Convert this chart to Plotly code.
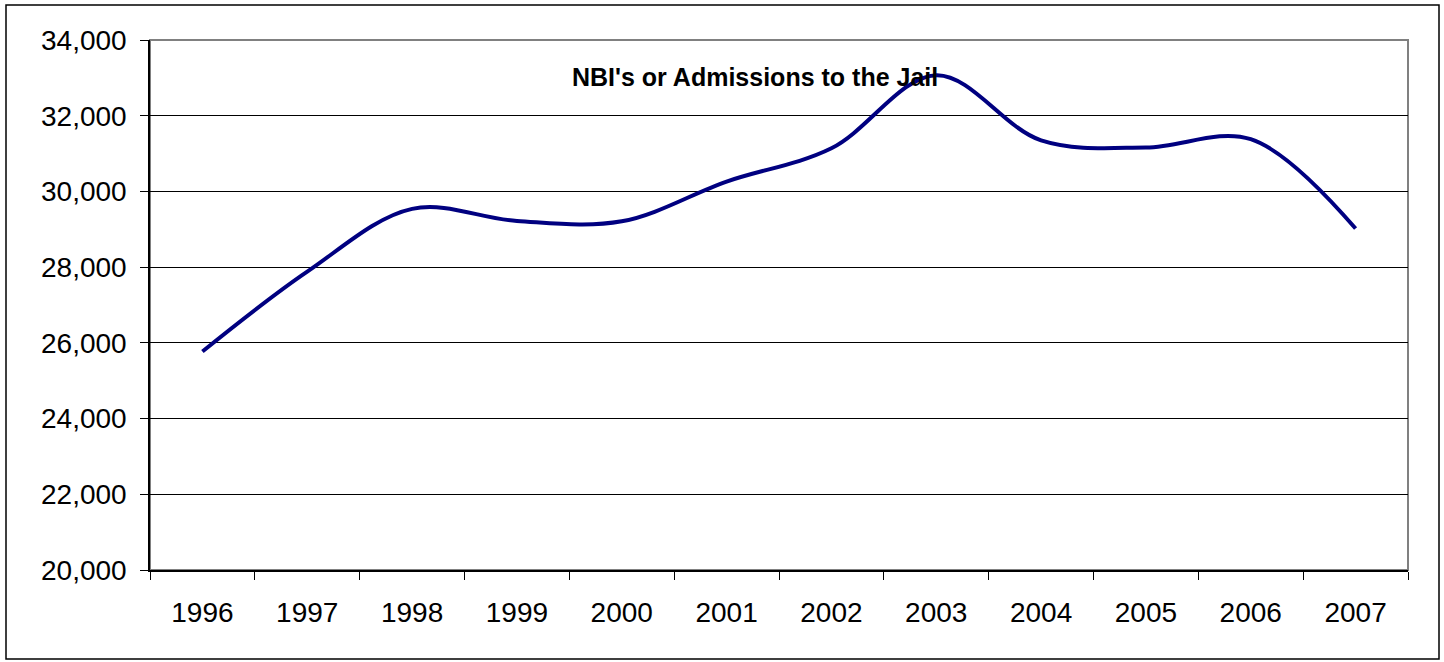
import plotly.graph_objects as go

years = ["1996", "1997", "1998", "1999", "2000", "2001",
         "2002", "2003", "2004", "2005", "2006", "2007"]
admissions = [25770, 27880, 29540, 29220, 29210, 30260,
              31140, 33070, 31350, 31160, 31380, 29020]

W, H = 1444, 662
L, R, T, B = 150, 36, 40, 92
pw, ph = W - L - R, H - T - B

def px(x):
    return (x - L) / pw

def py(y):
    return (H - B - y) / ph

fig = go.Figure()
fig.add_trace(go.Scatter(x=years, y=admissions, mode="lines",
                         line=dict(color="#000080", width=4, shape="spline", smoothing=1),
                         showlegend=False, hoverinfo="x+y"))

fig.update_layout(
    width=W, height=H,
    margin=dict(l=L, r=R, t=T, b=B),
    paper_bgcolor="white", plot_bgcolor="white",
    font=dict(family="Liberation Sans, Arial", color="black"),
    shapes=[
        # plot area frame (grey)
        dict(type="rect", xref="paper", yref="paper", x0=0, x1=1, y0=0, y1=1,
             line=dict(color="#808080", width=2), layer="below"),
        # outer chart border
        dict(type="rect", xref="paper", yref="paper",
             x0=px(6), x1=px(1439), y0=py(659), y1=py(5),
             line=dict(color="black", width=1.5)),
    ],
    annotations=[
        dict(text="<b>NBI's or Admissions to the Jail</b>", xref="paper", yref="paper",
             x=px(755), y=py(77), xanchor="center", yanchor="middle",
             showarrow=False, font=dict(size=25, color="black")),
    ],
)

fig.update_xaxes(
    type="category", range=[-0.5, 11.5], tickson="boundaries",
    ticks="outside", ticklen=8, tickcolor="black", tickwidth=1,
    showline=True, linecolor="black", linewidth=1.5,
    showgrid=False, tickfont=dict(size=28), ticklabelstandoff=17,
)
fig.update_yaxes(
    range=[20000, 34000], dtick=2000, tickformat=",",
    ticks="outside", ticklen=8, tickcolor="black", tickwidth=1,
    showline=True, linecolor="black", linewidth=1.5,
    showgrid=True, gridcolor="black", gridwidth=1,
    tickfont=dict(size=28), ticklabelstandoff=8, zeroline=False,
)

fig.write_html("out.html", config={"displayModeBar": False},
               post_script="document.body.style.margin='0';")
